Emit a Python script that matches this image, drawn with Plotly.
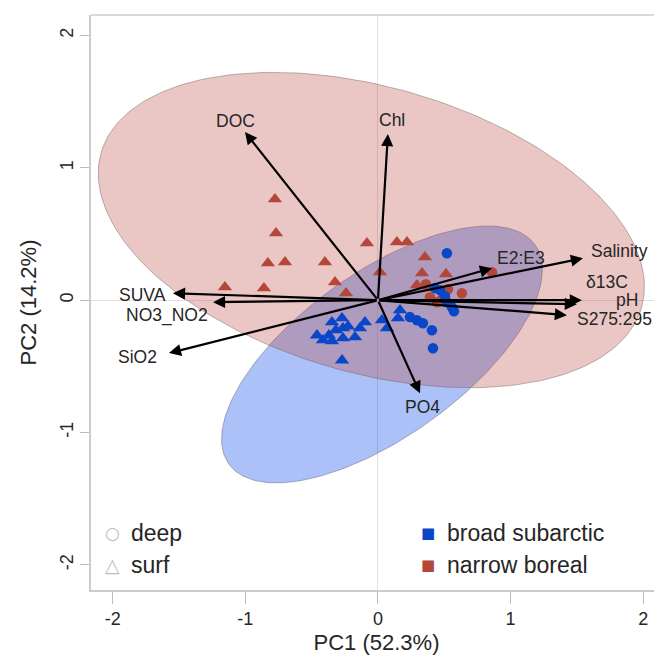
import numpy as np
import plotly.graph_objects as go

# ---------------- data ----------------
# narrow boreal, surface (triangles)
nb_surf_x = [-0.777, -0.769, -0.83, -0.701, -0.40, -0.324, -1.154, -0.86, -0.083, 0.143,
             0.219, -0.241, 0.015, 0.354, 0.332, 0.513, 0.294]
nb_surf_y = [0.763, 0.506, 0.280, 0.287, 0.287, 0.136, 0.098, 0.091, 0.431, 0.438,
             0.438, 0.053, 0.212, 0.325, 0.204, 0.197, 0.113]
# narrow boreal, deep (circles)
nb_deep_x = [0.86, 0.633, 0.483, 0.392, 0.362, 0.528, 0.445]
nb_deep_y = [0.212, 0.053, 0.008, 0.023, 0.121, 0.083, -0.015]
# broad subarctic, surface (triangles)
bs_surf_x = [0.166, 0.151, 0.03, 0.068, -0.098, -0.136, -0.173, -0.271, -0.347, -0.264,
             -0.317, -0.46, -0.415, -0.347, -0.264, -0.271, -0.37, -0.226]
bs_surf_y = [-0.076, -0.136, -0.151, -0.212, -0.166, -0.212, -0.28, -0.136, -0.166, -0.212,
             -0.227, -0.265, -0.302, -0.31, -0.287, -0.454, -0.265, -0.197]
# broad subarctic, deep (circles)
bs_deep_x = [0.52, 0.43, 0.468, 0.52, 0.558, 0.573, 0.241, 0.294, 0.339, 0.407, 0.415, 0.505]
bs_deep_y = [0.355, 0.091, 0.076, -0.015, -0.053, -0.083, -0.128, -0.151, -0.174, -0.227, -0.363, 0.03]

# loadings (arrow tips) and label positions
var_names = ["Chl", "DOC", "SUVA", "NO3_NO2", "SiO2", "PO4", "E2:E3", "Salinity", "δ13C", "pH", "S275:295"]
var_x = [0.075, -1.003, -1.546, -1.244, -1.576, 0.317, 0.86, 1.546, 1.538, 1.50, 1.425]
var_y = [1.255, 1.27, 0.053, -0.015, -0.40, -0.703, 0.242, 0.317, 0.0, -0.03, -0.113]
lab_x = [0.106, -1.078, -1.772, -1.591, -1.81, 0.339, 1.078, 1.825, 1.727, 1.878, 1.78]
lab_y = [1.36, 1.353, 0.038, -0.113, -0.431, -0.809, 0.317, 0.37, 0.136, 0.0, -0.14]

# confidence ellipses: center x, center y, semi-major, semi-minor, angle (deg)
ell_nb = [-0.05, 0.53, 2.12, 1.08, -16.0]
ell_bs = [0.03, -0.41, 1.421, 0.621, 35.7]

x_ticks = [-2, -1, 0, 1, 2]
y_ticks = [-2, -1, 0, 1, 2]
tick_labels = ["-2", "-1", "0", "1", "2"]

BLUE = "#0a46c8"
RED = "#b5473a"
FONT = "Liberation Sans, Arial, Helvetica, sans-serif"


def ellipse(params, n=240):
    cx, cy, a, b, ang = params
    t = np.linspace(0, 2 * np.pi, n)
    th = np.deg2rad(ang)
    x = cx + a * np.cos(t) * np.cos(th) - b * np.sin(t) * np.sin(th)
    y = cy + a * np.cos(t) * np.sin(th) + b * np.sin(t) * np.cos(th)
    return x, y


fig = go.Figure()

ex, ey = ellipse(ell_bs)
fig.add_trace(go.Scatter(x=ex, y=ey, mode="lines", fill="toself",
                         fillcolor="rgba(0,68,230,0.33)",
                         line=dict(color="rgba(90,90,110,0.45)", width=1),
                         hoverinfo="skip", showlegend=False))
ex, ey = ellipse(ell_nb)
fig.add_trace(go.Scatter(x=ex, y=ey, mode="lines", fill="toself",
                         fillcolor="rgba(184,71,58,0.30)",
                         line=dict(color="rgba(110,90,90,0.45)", width=1),
                         hoverinfo="skip", showlegend=False))

fig.add_trace(go.Scatter(x=nb_surf_x, y=nb_surf_y, mode="markers",
                         marker=dict(symbol="triangle-up", size=12.5, color=RED, line=dict(width=0)),
                         showlegend=False))
fig.add_trace(go.Scatter(x=nb_deep_x, y=nb_deep_y, mode="markers",
                         marker=dict(symbol="circle", size=10.5, color=RED, line=dict(width=0)),
                         showlegend=False))
fig.add_trace(go.Scatter(x=bs_surf_x, y=bs_surf_y, mode="markers",
                         marker=dict(symbol="triangle-up", size=12.5, color=BLUE, line=dict(width=0)),
                         showlegend=False))
fig.add_trace(go.Scatter(x=bs_deep_x, y=bs_deep_y, mode="markers",
                         marker=dict(symbol="circle", size=10.5, color=BLUE, line=dict(width=0)),
                         showlegend=False))

annotations = []
for name, vx, vy, lx, ly in zip(var_names, var_x, var_y, lab_x, lab_y):
    annotations.append(dict(x=vx, y=vy, ax=0, ay=0, xref="x", yref="y", axref="x", ayref="y",
                            text="", showarrow=True, arrowhead=2, arrowsize=1.1,
                            arrowwidth=2.2, arrowcolor="black", standoff=0))
    annotations.append(dict(x=lx, y=ly, xref="x", yref="y", text=name, showarrow=False,
                            xanchor="center", yanchor="middle", borderpad=0,
                            font=dict(family=FONT, size=17.5, color="#262626")))

# legend-like text (paper coordinates of the plot area)
leg_font = dict(family=FONT, size=23, color="#262626")
leg_rows = [0.099, 0.044]


def leg(x, y, text, font, xanchor):
    return dict(x=x, y=y, xref="paper", yref="paper", text=text, showarrow=False,
                xanchor=xanchor, yanchor="middle", font=font)


annotations += [
    leg(0.037, leg_rows[0], "○", dict(family="DejaVu Sans", size=17, color="#bdbdbd"), "center"),
    leg(0.066, leg_rows[0], "deep", leg_font, "left"),
    leg(0.037, leg_rows[1], "△", dict(family="DejaVu Sans", size=19, color="#bdbdbd"), "center"),
    leg(0.066, leg_rows[1], "surf", leg_font, "left"),
    leg(0.590, leg_rows[0], "■", dict(family="DejaVu Sans", size=15, color=BLUE), "center"),
    leg(0.620, leg_rows[0], "broad subarctic", leg_font, "left"),
    leg(0.590, leg_rows[1], "■", dict(family="DejaVu Sans", size=15, color=RED), "center"),
    leg(0.620, leg_rows[1], "narrow boreal", leg_font, "left"),
]

# the page body adds an 8px offset; margins compensate so the plot area
# sits at x 91..662, y 15..590 of the window
fig.update_layout(
    width=662, height=659,
    margin=dict(l=83, r=8, t=7, b=77),
    paper_bgcolor="white", plot_bgcolor="white",
    font=dict(family=FONT, color="#262626"),
    annotations=annotations,
    shapes=[dict(type="line", xref="paper", yref="paper", x0=0, x1=1, y0=1, y1=1,
                 line=dict(color="#cccccc", width=1.5))],
    xaxis=dict(range=[-2.164, 2.142], tickvals=x_ticks, ticktext=tick_labels,
               ticks="outside", ticklen=12,
               tickcolor="#bbbbbb", tickwidth=1, showgrid=False,
               zeroline=True, zerolinecolor="#e0e0e0", zerolinewidth=1,
               showline=True, linecolor="#cccccc", linewidth=1.5,
               tickfont=dict(size=18, color="#262626"),
               title=dict(text="PC1 (52.3%)", font=dict(size=22, color="#262626"), standoff=6)),
    yaxis=dict(range=[-2.19, 2.155], tickvals=y_ticks, ticktext=tick_labels,
               ticks="outside", ticklen=9,
               tickcolor="#bbbbbb", tickwidth=1, showgrid=False, tickangle=-90,
               zeroline=True, zerolinecolor="#e0e0e0", zerolinewidth=1,
               showline=True, linecolor="#cccccc", linewidth=1.5,
               tickfont=dict(size=18, color="#262626"),
               title=dict(text="PC2 (14.2%)", font=dict(size=22, color="#262626"), standoff=14)),
)

fig.write_html("out.html")
